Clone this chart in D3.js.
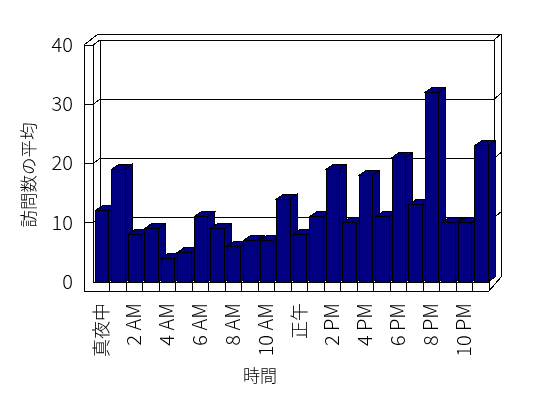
<!DOCTYPE html>
<html>
<head>
<meta charset="utf-8">
<script src="https://cdn.jsdelivr.net/npm/d3@7"></script>
<style>
  html, body { margin: 0; padding: 0; background: #fff; }
  svg { display: block; will-change: transform; }
  text { fill: #000; font-family: "Liberation Sans Narrow", "Noto Sans CJK JP", sans-serif; font-weight: 300; }
  .cjk { font-family: "Noto Sans CJK JP", sans-serif; }
</style>
</head>
<body>
<div id="chart"></div>
<script>
const hours = ["真夜中", "1 AM", "2 AM", "3 AM", "4 AM", "5 AM", "6 AM", "7 AM", "8 AM", "9 AM", "10 AM", "11 AM",
  "正午", "1 PM", "2 PM", "3 PM", "4 PM", "5 PM", "6 PM", "7 PM", "8 PM", "9 PM", "10 PM", "11 PM"];
const visits = [12, 19, 8, 9, 4, 5, 11, 9, 6, 7, 7, 14, 8, 11, 19, 10, 18, 11, 21, 13, 32, 10, 10, 23];
const yTicks = [0, 10, 20, 30, 40];
const xTicks = hours.filter((d, i) => i % 2 === 0);
const xTitle = "時間";
const yTitle = "訪問数の平均";

const width = 548;
const height = 398;
// plot corners, the walls are offset from these by the depth
const plotLeft = 93, plotRight = 489, plotBottom = 282, plotTop = 45;
const wallDx = 7, wallDy = 5;
const slabDx = 9, slabDy = 9;
const barDx = 7, barDy = 5;

const x = d3.scaleBand().domain(hours).range([plotLeft, plotRight]);
const y = d3.scaleLinear().domain([0, 40]).range([plotBottom, plotTop]);

const svg = d3.select("#chart").append("svg")
  .attr("width", width)
  .attr("height", height);

const frame = svg.append("g")
  .attr("fill", "none")
  .attr("stroke", "#000")
  .attr("shape-rendering", "crispEdges");

// walls
frame.append("path").attr("d", [
  `M${plotLeft - slabDx},${plotBottom + slabDy}V${plotTop}`,
  `M${plotLeft},${plotBottom}V${plotTop}`,
  `M${plotLeft + wallDx},${plotBottom}V${plotTop - wallDy}`,
  `H${plotRight + 5}V${plotBottom - 5}L${plotRight},${plotBottom}`,
  `M${plotLeft - slabDx},${plotTop}L${plotLeft - slabDx + 14},${plotTop - 11}H${plotRight + 12}V${plotBottom - 5}L${plotRight},${plotBottom + slabDy}V${plotBottom}`,
  `M${plotLeft - slabDx},${plotTop}H${plotLeft}L${plotLeft + wallDx},${plotTop - wallDy}`,
  `M${plotRight + 5},${plotTop - wallDy}L${plotRight + 12},${plotTop - 11}`
].join(""));

// grid lines run along the side wall and the back wall
frame.selectAll(".grid")
  .data(yTicks.slice(1, -1))
  .enter().append("path")
    .attr("class", "grid")
    .attr("d", d => `M${plotLeft - slabDx},${y(d)}H${plotLeft}L${plotLeft + wallDx},${y(d) - wallDy}H${plotRight + 5}L${plotRight + 12},${y(d) - 11}`);

// floor
frame.append("path")
  .attr("d", `M${plotLeft - slabDx},${plotBottom + slabDy}H${plotRight}M${plotLeft},${plotBottom}H${plotRight}`);
frame.selectAll(".floor-tick")
  .data(hours)
  .enter().append("line")
    .attr("class", "floor-tick")
    .attr("x1", d => x(d) + x.bandwidth())
    .attr("x2", d => x(d) + x.bandwidth())
    .attr("y1", plotBottom)
    .attr("y2", plotBottom + slabDy);

// bars, painted left to right so each one covers the side of the previous
const bars = svg.selectAll(".bar")
  .data(hours.map((h, i) => ({ hour: h, value: visits[i] })))
  .enter().append("g")
    .attr("class", "bar")
    .attr("fill", "#000080")
    .attr("stroke", "#000")
    .attr("shape-rendering", "crispEdges");

const barLeft = d => x(d.hour) + 2;
const barRight = d => x(d.hour) + 15.5;

bars.append("rect")
  .attr("x", barLeft)
  .attr("y", d => y(d.value))
  .attr("width", d => barRight(d) - barLeft(d))
  .attr("height", d => plotBottom - y(d.value));

bars.append("path")
  .attr("d", d => `M${barRight(d)},${plotBottom}V${y(d.value)}l${barDx},${-barDy}V${plotBottom - barDy}Z`);

bars.append("path")
  .attr("d", d => `M${barLeft(d)},${y(d.value)}l${barDx},${-barDy}H${barRight(d) + barDx}l${-barDx},${barDy}Z`);

// axes
const yAxis = svg.append("g")
  .attr("transform", "translate(78,0)")
  .call(d3.axisLeft(y).tickValues(yTicks).tickSize(0).tickPadding(5));
yAxis.select(".domain").remove();
yAxis.attr("font-family", null);
yAxis.selectAll("text")
  .style("font-size", "20px");

const xAxis = svg.append("g")
  .attr("transform", `translate(0,${plotBottom + slabDy})`)
  .call(d3.axisBottom(x).tickValues(xTicks).tickSize(0));
xAxis.select(".domain").remove();
xAxis.attr("font-family", null);
xAxis.selectAll("text")
  .attr("transform", "rotate(-90)")
  .attr("x", -12)
  .attr("y", 0)
  .attr("dy", ".35em")
  .style("text-anchor", "end")
  .style("font-size", d => d.includes("M") ? "20px" : "18px");

svg.append("text")
  .attr("class", "cjk")
  .attr("x", 260)
  .attr("y", 382)
  .style("text-anchor", "middle")
  .style("font-size", "17px")
  .text(xTitle);

svg.append("text")
  .attr("class", "cjk")
  .attr("transform", "translate(35,175) rotate(-90)")
  .style("text-anchor", "middle")
  .style("font-size", "17.5px")
  .text(yTitle);
</script>
</body>
</html>
